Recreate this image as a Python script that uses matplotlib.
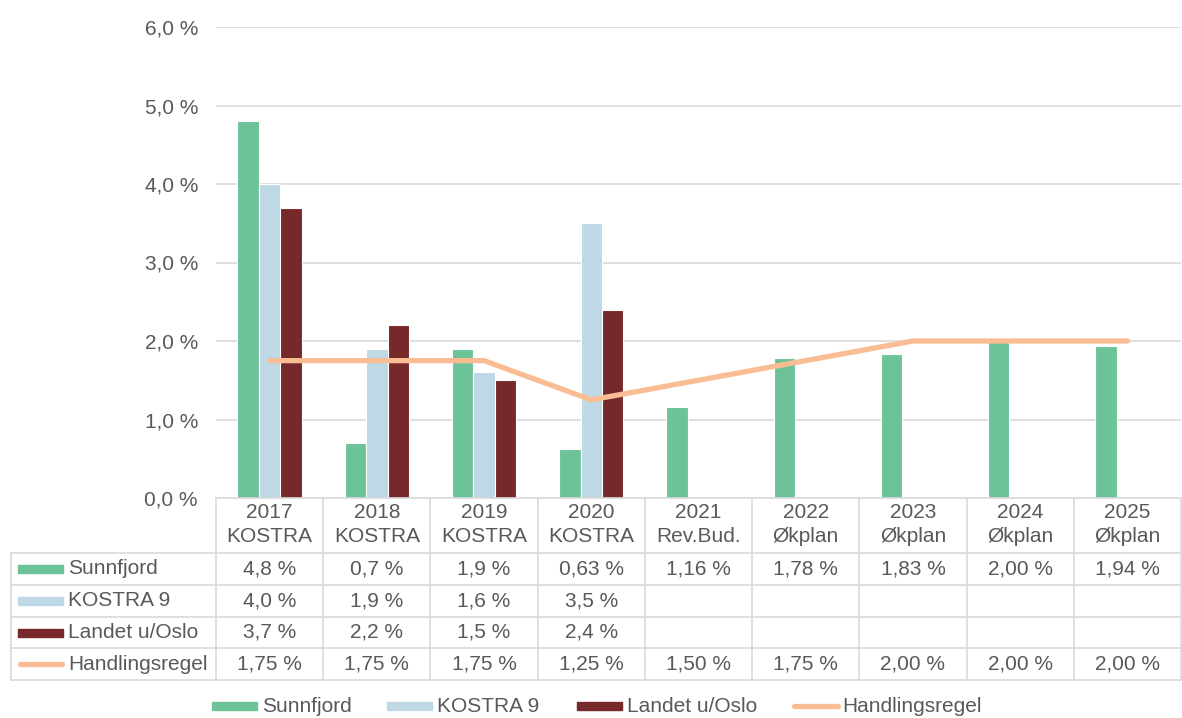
import matplotlib
matplotlib.use("Agg")
import matplotlib.pyplot as plt
import matplotlib.transforms as mtransforms
from matplotlib.lines import Line2D
from matplotlib.patches import Rectangle
import numpy as np

plt.rcParams['font.family'] = ['Liberation Sans', 'DejaVu Sans']

years = ["2017", "2018", "2019", "2020", "2021", "2022", "2023", "2024", "2025"]
kinds = ["KOSTRA", "KOSTRA", "KOSTRA", "KOSTRA", "Rev.Bud.", "Økplan", "Økplan", "Økplan", "Økplan"]

sunnfjord = [4.8, 0.7, 1.9, 0.63, 1.16, 1.78, 1.83, 2.00, 1.94]
sunnfjord_dec = [1, 1, 1, 2, 2, 2, 2, 2, 2]
kostra9 = [4.0, 1.9, 1.6, 3.5]
landet = [3.7, 2.2, 1.5, 2.4]
handlingsregel = [1.75, 1.75, 1.75, 1.25, 1.50, 1.75, 2.00, 2.00, 2.00]

names = ["Sunnfjord", "KOSTRA 9", "Landet u/Oslo", "Handlingsregel"]
colors = ["#6dc398", "#bfd8e5", "#76282a", "#fabd93"]
txt = "#595959"
grid = "#d9d9d9"
fs = 15

W, H = 1182, 718
fig = plt.figure(figsize=(W / 100, H / 100), dpi=100)


def fx(px):
    return px / W


def fy(py):
    return 1 - py / H


ax = fig.add_axes([fx(216), fy(498), fx(1181) - fx(216), fy(27) - fy(498)])
n = len(years)
x = np.arange(n)
ax.bar(x[:len(sunnfjord)] - 0.2, sunnfjord, 0.2, color=colors[0], edgecolor="white", linewidth=0.8, zorder=2)
ax.bar(x[:len(kostra9)], kostra9, 0.2, color=colors[1], edgecolor="white", linewidth=0.8, zorder=2)
ax.bar(x[:len(landet)] + 0.2, landet, 0.2, color=colors[2], edgecolor="white", linewidth=0.8, zorder=2)
ax.plot(x, handlingsregel, color=colors[3], lw=3.8, solid_capstyle="round", zorder=3)

ax.set_xlim(-0.5, n - 0.5)
ax.set_ylim(0, 6)
ax.set_yticks(range(7))
ax.set_yticklabels([f"{v},0 %" for v in range(7)])
ax.set_xticks([])
ax.tick_params(axis="y", length=0, labelsize=fs, labelcolor=txt, pad=13)
ax.grid(axis="y", color=grid, lw=1.2, zorder=0)
for s in ["top", "right", "left"]:
    ax.spines[s].set_visible(False)
ax.spines["bottom"].set_color(grid)
ax.spines["bottom"].set_linewidth(1.2)

# data table below the axes
tr = mtransforms.blended_transform_factory(ax.transData, fig.transFigure)
row_y = [553, 585, 617, 648, 680]


def fline(x0, x1, y0, y1):
    fig.add_artist(Line2D([fx(x0), fx(x1)], [fy(y0), fy(y1)], color=grid, lw=1.2))


for k in range(n + 1):
    xb = 216 + k * (1181 - 216) / n
    fline(xb, xb, 498, 680)
fline(11, 11, 553, 680)
for yy in row_y:
    fline(11, 1181, yy, yy)

for i in range(n):
    fig.text(i, fy(512), years[i], transform=tr, ha="center", va="center", fontsize=fs, color=txt)
    fig.text(i, fy(537), kinds[i], transform=tr, ha="center", va="center", fontsize=fs, color=txt)


def pct(v, d):
    return f"{v:.{d}f} %".replace(".", ",")


rows = [
    [pct(v, d) for v, d in zip(sunnfjord, sunnfjord_dec)],
    [pct(v, 1) for v in kostra9],
    [pct(v, 1) for v in landet],
    [pct(v, 2) for v in handlingsregel],
]
for r in range(4):
    yc = (row_y[r] + row_y[r + 1]) / 2
    for i, s in enumerate(rows[r]):
        fig.text(i, fy(yc), s, transform=tr, ha="center", va="center", fontsize=fs, color=txt)
    # row header with swatch
    if r < 3:
        fig.add_artist(Rectangle((fx(18), fy(yc + 4)), fx(45), fy(0) - fy(8), color=colors[r]))
    else:
        fig.add_artist(Line2D([fx(20), fx(62)], [fy(yc), fy(yc)], color=colors[r], lw=3.8,
                              solid_capstyle="round"))
    fig.text(fx(68), fy(yc), names[r], ha="left", va="center", fontsize=fs, color=txt)

# legend at the bottom
leg_x = [212, 387, 577, 792]
leg_y = 706
for r in range(4):
    x0 = leg_x[r]
    if r < 3:
        fig.add_artist(Rectangle((fx(x0), fy(leg_y + 4)), fx(45), fy(0) - fy(8), color=colors[r]))
    else:
        fig.add_artist(Line2D([fx(x0 + 2), fx(x0 + 46)], [fy(leg_y), fy(leg_y)], color=colors[r], lw=3.8,
                              solid_capstyle="round"))
    fig.text(fx(x0 + 50), fy(leg_y), names[r], ha="left", va="center", fontsize=fs, color=txt)

fig.savefig("out.png", dpi=100)
